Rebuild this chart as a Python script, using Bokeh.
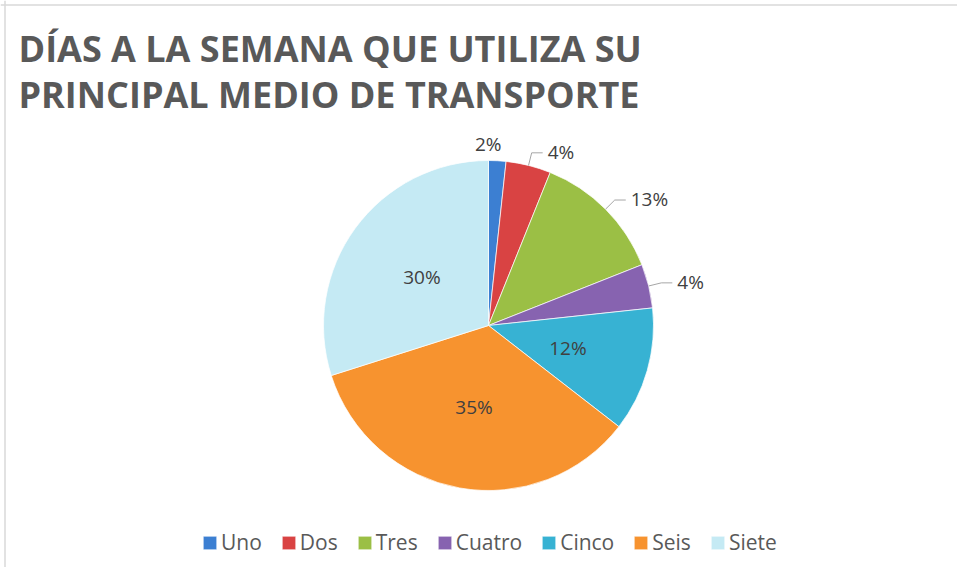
import math
from bokeh.plotting import figure
from bokeh.models import ColumnDataSource, Range1d, Label, Span
from bokeh.core.properties import value
from bokeh.embed import file_html
from bokeh.resources import INLINE

# ---------------- data ----------------
categories = ["Uno", "Dos", "Tres", "Cuatro", "Cinco", "Seis", "Siete"]
shares = [1.7, 4.4, 12.9, 4.3, 12.2, 34.6, 29.9]          # percent of respondents
colors = ["#3C7FD2", "#D94343", "#9BBF45", "#8763B0", "#37B2D3", "#F7932F", "#C5EAF4"]
label_mode = ["top", "leader", "leader", "leader", "inside", "inside", "inside"]
title_lines = ["DÍAS A LA SEMANA QUE UTILIZA SU", "PRINCIPAL MEDIO DE TRANSPORTE"]

# ---------------- layout ----------------
W, H = 957, 567
CX, CY, R = 488, 242, 165
FONT = "Open Sans"
TXT = "#404040"

total = sum(shares)
starts, ends, mids = [], [], []
acc = 0.0
for s in shares:
    a0 = math.pi / 2 - 2 * math.pi * acc / total
    acc += s
    a1 = math.pi / 2 - 2 * math.pi * acc / total
    starts.append(a0)
    ends.append(a1)
    mids.append((a0 + a1) / 2)
labels = [f"{round(s / total * 100)}%" for s in shares]

p = figure(width=W, height=H, x_range=Range1d(0, W), y_range=Range1d(0, H),
           output_backend="svg", toolbar_location=None, min_border=0,
           x_axis_location=None, y_axis_location=None)
p.grid.visible = False
p.outline_line_color = None
p.background_fill_color = "white"
p.border_fill_color = "white"

# chart-area border (left and top only are visible in the reference)
p.add_layout(Span(location=4.5, dimension="height", line_color="#d9d9d9", line_width=1.5))
p.add_layout(Span(location=H - 4.5, dimension="width", line_color="#d9d9d9", line_width=1.5))

# ---------------- pie ----------------
src = ColumnDataSource(dict(cat=categories, start=starts, end=ends, color=colors))
p.wedge(x=CX, y=CY, radius=R, start_angle="start", end_angle="end", direction="clock",
        fill_color="color", line_color="white", line_width=1, line_alpha=0.7,
        source=src, legend_field="cat")

# ---------------- labels ----------------
lx_x, lx_y, lx_t = [], [], []
top_x, top_y, top_t = [], [], []
in_x, in_y, in_t = [], [], []
lead_xs, lead_ys = [], []
for m, lab, mode in zip(mids, labels, label_mode):
    c, s = math.cos(m), math.sin(m)
    if mode == "inside":
        in_x.append(CX + 0.5 * R * c); in_y.append(CY + 0.5 * R * s); in_t.append(lab)
    elif mode == "top":
        top_x.append(CX + (R + 17) * c - 10); top_y.append(CY + (R + 17) * s); top_t.append(lab)
    else:
        ex, ey = CX + R * c, CY + R * s
        bx, by = CX + (R + 13) * c, CY + (R + 13) * s
        tx = bx + 11
        lead_xs.append([ex, bx, tx]); lead_ys.append([ey, by, by])
        lx_x.append(tx + 5); lx_y.append(by + 1); lx_t.append(lab)

p.multi_line(xs=lead_xs, ys=lead_ys, line_color="#A6A6A6", line_width=1)
p.text(x=lx_x, y=lx_y, text=lx_t, text_font=value(FONT), text_font_size="19px",
       text_color=TXT, text_align="left", text_baseline="alphabetic")
p.text(x=top_x, y=top_y, text=top_t, text_font=value(FONT), text_font_size="19px",
       text_color=TXT, text_align="center", text_baseline="alphabetic")
p.text(x=in_x, y=in_y, text=in_t, text_font=value(FONT), text_font_size="19px",
       text_color=TXT, text_align="center", text_baseline="middle")

# ---------------- title ----------------
for i, line in enumerate(title_lines):
    p.add_layout(Label(x=18, y=519 - 46 * i, text=line, text_font=FONT,
                       text_font_size="36px", text_font_style="bold",
                       text_color="#595959", text_baseline="alphabetic"))

# ---------------- legend ----------------
lg = p.legend[0]
lg.orientation = "horizontal"
lg.location = (201, 11)
lg.border_line_color = None
lg.background_fill_alpha = 0
lg.padding = 0
lg.margin = 0
lg.spacing = 18
lg.glyph_width = 17
lg.glyph_height = 17
lg.label_standoff = 3
lg.label_text_font = FONT
lg.label_text_font_size = "21px"
lg.label_text_color = "#595959"

open("out.html", "w").write(file_html(p, INLINE))
